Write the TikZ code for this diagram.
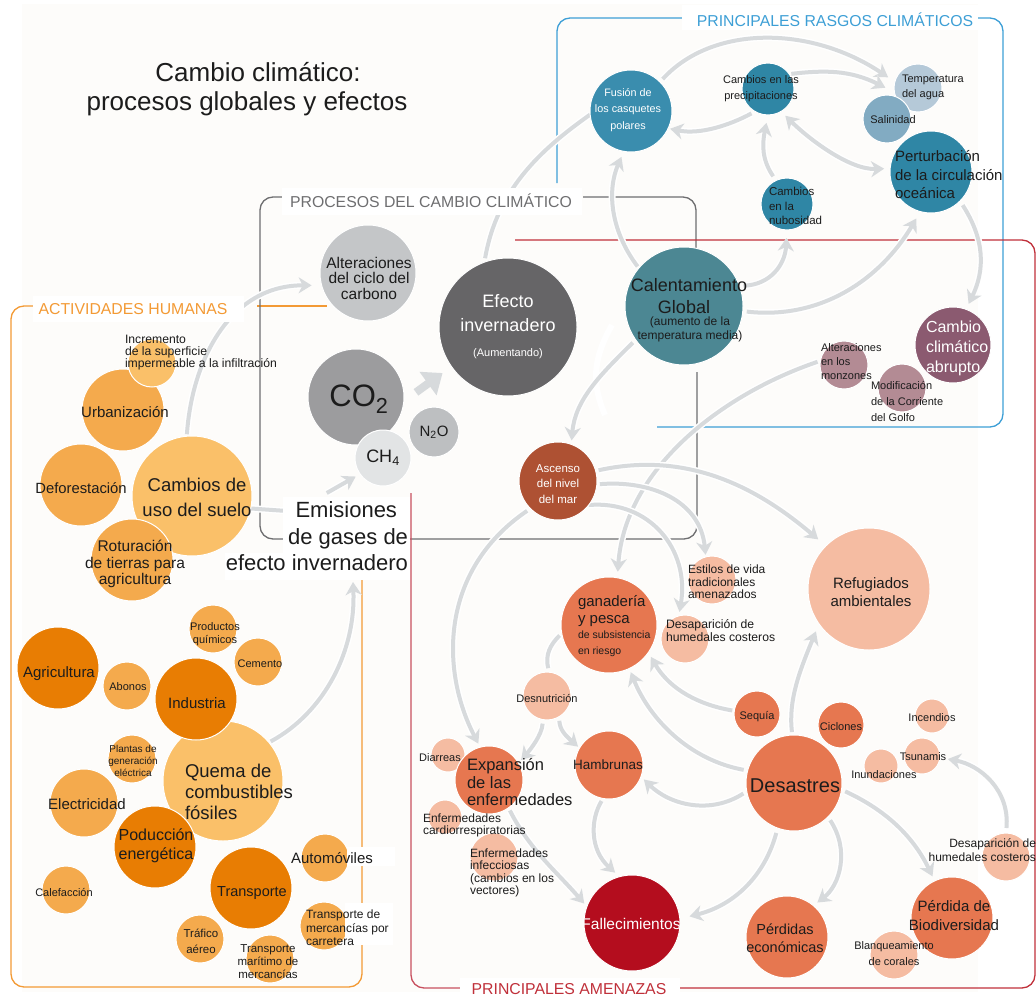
\documentclass[tikz,border=0pt]{standalone}
\usepackage{fontspec}
\setmainfont{Liberation Sans}
\usetikzlibrary{arrows.meta}
\pgfdeclarelayer{frames}
\pgfdeclarelayer{links}
\pgfsetlayers{frames,links,main}
\definecolor{cream}{HTML}{FDFCFA}
\definecolor{orA}{HTML}{FAC069}
\definecolor{orB}{HTML}{F4AA4D}
\definecolor{orC}{HTML}{E87D03}
\definecolor{gyA}{HTML}{C4C6C8}
\definecolor{gyB}{HTML}{9C9C9E}
\definecolor{gyC}{HTML}{E2E4E5}
\definecolor{gyD}{HTML}{BDBFC1}
\definecolor{gyE}{HTML}{666567}
\definecolor{teA}{HTML}{3A8DAE}
\definecolor{teB}{HTML}{2F86A5}
\definecolor{teC}{HTML}{4C8793}
\definecolor{teD}{HTML}{B5C9D8}
\definecolor{teE}{HTML}{82ABC2}
\definecolor{muA}{HTML}{8B5A70}
\definecolor{muB}{HTML}{B38B94}
\definecolor{reA}{HTML}{AE5133}
\definecolor{reB}{HTML}{E67750}
\definecolor{reC}{HTML}{F5BCA2}
\definecolor{reD}{HTML}{B40D1E}
\definecolor{ink}{HTML}{1C1C1C}
\definecolor{linkc}{HTML}{D7DADC}
\definecolor{frO}{HTML}{F39A35}
\definecolor{frG}{HTML}{6E6E70}
\definecolor{frB}{HTML}{3D9FD6}
\definecolor{frR}{HTML}{C0303A}
\definecolor{frP}{HTML}{C8505F}
\tikzset{
  bubble/.style={circle,draw=white,line width=1pt,inner sep=0pt,outer sep=0pt},
  txt/.style={inner sep=0pt,outer sep=0pt,align=center,text=ink},
  plainlink/.style={draw=linkc,line width=4pt,preaction={draw=white,line width=7pt}},
  link/.style={plainlink,-{Stealth[length=13pt,width=16pt,inset=4pt]},shorten >=4pt,shorten <=2pt},
  twolink/.style={plainlink,{Stealth[length=13pt,width=16pt,inset=4pt]}-{Stealth[length=13pt,width=16pt,inset=4pt]}},
  frame/.style={line width=1.3pt,rounded corners=13pt}
}
\newcommand\bub[4]{\node[bubble,fill=#4,minimum size=#3*2pt] (#1) at (#2) {};}
\newcommand\lab[6][]{\node[txt,font=\fontsize{#4}{#5}\selectfont,#1] (#2) at (#3) {#6};}
\begin{document}
\begin{tikzpicture}[x=1pt,y=-1pt]
\useasboundingbox (0,0) rectangle (1036,998);
% ---------- bubbles
\bub{alter}{368,273}{48}{gyA}
\bub{cotwo}{356,397}{48}{gyB}
\bub{chfour}{383,458}{28}{gyC}
\bub{ntwo}{434,432}{25}{gyD}
\bub{efecto}{508,327}{69}{gyE}
\bub{urban}{123,410}{41}{orB}
\bub{imper}{152,363}{24}{orA}
\bub{defor}{81,485}{41}{orB}
\bub{cambios}{192,496}{60}{orA}
\bub{rotur}{132,560}{41}{orB}
\bub{quimic}{213,629}{24}{orB}
\bub{cement}{258,662}{24}{orB}
\bub{agric}{58,668}{41}{orC}
\bub{abonos}{127,686}{24}{orB}
\bub{quema}{223,781}{60}{orA}
\bub{indus}{196,699}{41}{orC}
\bub{planta}{132,759}{24}{orB}
\bub{elect}{84,803}{34}{orB}
\bub{poduc}{155,847}{41}{orC}
\bub{calef}{66,890}{24}{orB}
\bub{autom}{325,858}{24}{orB}
\bub{transp}{251,888}{41}{orC}
\bub{carre}{324,926}{24}{orB}
\bub{aereo}{200,939}{24}{orB}
\bub{marit}{270,959}{24}{orB}
\bub{fusion}{631,111}{41}{teA}
\bub{precip}{768,89}{26}{teB}
\bub{tempe}{918,88}{24}{teD}
\bub{salin}{887,119}{24}{teE}
\bub{pertu}{931,172}{41}{teB}
\bub{nubos}{787,204}{26}{teB}
\bub{calen}{684,306}{59}{teC}
\bub{abrup}{953,345}{38}{muA}
\bub{monzo}{844,365}{24}{muB}
\bub{golfo}{902,388}{24}{muB}
\bub{ascen}{558,481}{39}{reA}
\bub{estil}{712,580}{24}{reC}
\bub{refug}{869,589}{61}{reC}
\bub{humeA}{685,639}{24}{reC}
\bub{ganad}{609,625}{48}{reB}
\bub{desnu}{547,696}{24}{reC}
\bub{sequi}{757,714}{23}{reB}
\bub{ciclo}{841,725}{23}{reB}
\bub{incen}{932,716}{17}{reC}
\bub{tsuna}{922,756}{18}{reC}
\bub{inund}{881,766}{17}{reC}
\bub{desas}{794,783}{48}{reB}
\bub{hambr}{609,765}{34}{reB}
\bub{diarr}{448,755}{17}{reC}
\bub{cardi}{445,817}{17}{reC}
\bub{expan}{489,780}{34}{reB}
\bub{infec}{494,857}{24}{reC}
\bub{falle}{632,923}{48}{reD}
\bub{econo}{787,937}{41}{reB}
\bub{biodi}{952,918}{41}{reB}
\bub{blanq}{894,955}{24}{reC}
\bub{humeB}{1006,857}{24}{reC}
\coordinate (emisIn) at (353,582);
\coordinate (emisOut) at (325,494);
\coordinate (emisLeft) at (287,511);
% ---------- background and frames
\begin{pgfonlayer}{frames}
\fill[cream] (22,4) rectangle (978,992);
\draw[frame,frO] (33,306) -- (11,306) -- (11,987) -- (362,987) -- (362,576);
\draw[frO,line width=1.3pt] (257,306) -- (327,306);
\draw[frame,frG] (283,197) -- (260,197) -- (260,539) -- (697,539) -- (697,372);
\draw[frame,frG] (583,197) -- (696,197) -- (696,248);
\draw[frame,frB] (557,183) -- (557,18) -- (682,18);
\draw[frame,frB] (978,18) -- (1003,18) -- (1003,427) -- (657,427);
\draw[frame,frR] (515,240) -- (1035,240) -- (1035,988) -- (680,988);
\draw[frame,frP] (411,493) -- (411,988) -- (460,988);
\end{pgfonlayer}
% ---------- links
\begin{pgfonlayer}{links}
\draw[white,line width=6pt] (612,325) .. controls (592,360) and (592,385) .. (605,415);
\draw[link,shorten >=10pt] (cambios.95) .. controls (192,360) and (230,285) .. (alter.195);
\draw[link,shorten >=0pt] (quema.40) .. controls (325,712) and (356,650) .. (emisIn);
\draw[plainlink] (cambios.-12) -- (emisLeft);
\draw[link,shorten >=5pt] (emisOut) -- (chfour.215);
\draw[plainlink,line width=8pt,-{Stealth[length=18pt,width=28pt,inset=0pt]},shorten >=11pt,shorten <=15pt] (cotwo.-5) -- (efecto.215);
\draw[plainlink,shorten <=4pt] (efecto.110) .. controls (497,190) and (540,150) .. (fusion.185);
\draw[link,shorten >=6pt] (calen.140) .. controls (610,230) and (607,190) .. (fusion.260);
\draw[link,shorten <=4pt,shorten >=8pt] (fusion.45) .. controls (712,25) and (810,25) .. (tempe.165);
\draw[link,shorten >=10pt] (precip.35) .. controls (825,70) and (850,70) .. (tempe.190);
\draw[link,shorten >=2pt,shorten <=4pt] (precip.240) .. controls (730,125) and (700,135) .. (fusion.-25);
\draw[link,shorten >=8pt,shorten <=5pt] (nubos.115) .. controls (762,160) and (762,145) .. (precip.270);
\draw[twolink,shorten >=6pt,shorten <=6pt] (precip.300) .. controls (810,140) and (850,170) .. (pertu.175);
\draw[link,shorten <=4pt,shorten >=8pt] (calen.20) .. controls (770,285) and (785,265) .. (nubos.270);
\draw[link,shorten <=4pt,shorten >=8pt] (calen.-5) .. controls (820,320) and (880,280) .. (pertu.255);
\draw[link,shorten <=5pt,shorten >=6pt] (pertu.-45) .. controls (985,240) and (985,270) .. (abrup.70);
\draw[link,shorten <=4pt,shorten >=4pt] (calen.215) .. controls (600,375) and (575,400) .. (ascen.70);
\draw[link,shorten >=6pt,shorten <=3pt] (monzo.170) .. controls (720,395) and (625,470) .. (ganad.80);
\draw[link,shorten <=3pt,shorten >=10pt] (ascen.15) .. controls (690,450) and (760,490) .. (refug.135);
\draw[link,shorten <=3pt,shorten >=2pt] (ascen.-5) .. controls (650,480) and (700,500) .. (estil.105);
\draw[link,shorten <=0pt,shorten >=4pt] (ascen.-38) .. controls (650,500) and (690,550) .. (humeA.105);
\draw[link,shorten <=4pt,shorten >=4pt] (ascen.225) .. controls (440,570) and (440,670) .. (expan.105);
\draw[plainlink,shorten <=3pt,shorten >=4pt] (ganad.190) .. controls (550,645) and (545,655) .. (desnu.85);
\draw[link,shorten <=4pt,shorten >=4pt] (desnu.-100) .. controls (542,735) and (530,750) .. (expan.30);
\draw[link,shorten <=4pt,shorten >=2pt] (desnu.-60) .. controls (560,730) and (565,735) .. (hambr.150);
\draw[link,shorten <=2pt,shorten >=5pt] (sequi.172) .. controls (700,705) and (670,690) .. (ganad.-35);
\draw[link,shorten <=4pt,shorten >=4pt] (desas.165) .. controls (690,760) and (650,720) .. (ganad.-65);
\draw[link,shorten <=4pt,shorten >=4pt] (desas.190) .. controls (710,815) and (670,805) .. (hambr.-20);
\draw[link,shorten <=3pt,shorten >=8pt] (desas.92) .. controls (788,700) and (800,670) .. (refug.215);
\draw[link,shorten <=5pt,shorten >=10pt] (desas.-110) .. controls (765,875) and (735,905) .. (falle.5);
\draw[link,shorten <=4pt,shorten >=5pt] (desas.-45) .. controls (850,850) and (840,885) .. (econo.50);
\draw[link,shorten <=4pt,shorten >=5pt] (desas.-8) .. controls (890,812) and (915,840) .. (biodi.115);
\draw[link,shorten <=5pt,shorten >=8pt] (humeB.90) .. controls (1010,790) and (980,765) .. (tsuna.-5);
\draw[link,shorten <=3pt,shorten >=6pt] (hambr.-100) .. controls (590,820) and (590,850) .. (falle.105);
\draw[link,shorten <=3pt,shorten >=4pt] (expan.-55) .. controls (530,850) and (555,870) .. (falle.160);
\end{pgfonlayer}
% ---------- white patches behind labels
\fill[white] (283,497) rectangle (410,553);
\fill[white] (225,553) rectangle (410,580);
\fill[white] (347,847) rectangle (395,866);
\fill[white] (345,903) rectangle (393,945);
\fill[white] (33,296) rectangle (244,322);
\fill[white] (282,188) rectangle (582,215);
\fill[white] (682,5) rectangle (978,30);
\fill[white] (460,978) rectangle (680,998);
% ---------- labels
\lab{title}{247,89}{26}{29}{\hspace*{22pt}Cambio climático:\\procesos globales y efectos}
\lab[text=frO]{hActiv}{133,309}{15.8}{18}{ACTIVIDADES HUMANAS}
\lab[text=frG]{hProc}{431,201}{15.8}{18}{PROCESOS DEL CAMBIO CLIMÁTICO}
\lab[text=frB]{hRasgo}{835,20}{15.8}{18}{PRINCIPALES RASGOS CLIMÁTICOS}
\lab[text=frR]{hAmen}{569,989}{15.8}{18}{PRINCIPALES AMENAZAS}
\lab{tAlter}{369,278}{15.5}{15.5}{Alteraciones\\del ciclo del\\carbono}
\lab{tCo}{359,399}{31}{36}{CO\textsubscript{2}}
\lab{tCh}{383,458}{18}{20}{CH\textsubscript{4}}
\lab{tNt}{434,432}{15}{17}{N\textsubscript{2}O}
\lab[text=white]{tEfe}{508,313}{18}{24}{Efecto\\invernadero}
\lab[text=white]{tEfeB}{508,354}{11}{13}{(Aumentando)}
\lab[align=left,anchor=north west]{tImper}{125,335}{12.2}{12}{Incremento\\de la superficie\\impermeable a la infiltración}
\lab{tUrban}{125,412}{15}{17}{Urbanización}
\lab{tDefor}{81,488}{14.8}{17}{Deforestación}
\lab{tCamb}{197,497}{18.5}{25}{Cambios de\\uso del suelo}
\lab{tRotur}{135,564}{15.5}{16.5}{Roturación\\de tierras para\\agricultura}
\lab[align=right,anchor=north east]{tEmis}{408,502}{22}{26.5}{Emisiones\hspace*{11pt}\\de gases de\hspace*{3pt}\\efecto invernadero}
\lab{tQuimic}{215,634}{11}{13.5}{Productos\\químicos}
\lab{tCement}{260,664}{11}{13}{Cemento}
\lab{tAgric}{59,674}{15}{17}{Agricultura}
\lab{tAbonos}{128,687}{11}{13}{Abonos}
\lab{tIndus}{197,703}{15}{17}{Industria}
\lab{tPlanta}{133,761}{10}{12}{Plantas de\\generación\\eléctrica}
\lab[align=left,anchor=west]{tQuema}{185,792}{18.5}{21}{Quema de\\combustibles\\fósiles}
\lab{tElect}{87,804}{15}{17}{Electricidad}
\lab{tPoduc}{156,846}{16}{19}{Poducción\\energética}
\lab{tCalef}{64,892}{11}{13}{Calefacción}
\lab{tAutom}{332,858}{15}{17}{Automóviles}
\lab{tTransp}{252,893}{14.5}{17}{Transporte}
\lab[align=left,anchor=west]{tCarre}{306,928}{12}{13.5}{Transporte de\\mercancías por\\carretera}
\lab{tAereo}{201,941}{11.5}{16}{Tráfico\\aéreo}
\lab{tMarit}{268,962}{11.5}{13}{Transporte\\marítimo de\\mercancías}
\lab[text=white]{tFusion}{628,110}{10.8}{16.5}{Fusión de\\los casquetes\\polares}
\lab{tPrecip}{761,89}{11}{16}{Cambios en las\\precipitaciones}
\lab[align=left,anchor=west]{tTempe}{902,87}{11}{15}{Temperatura\\del agua}
\lab{tSalin}{893,120}{11}{13}{Salinidad}
\lab[align=left,anchor=west]{tPertu}{895,175}{15}{18.5}{Perturbación\\de la circulación\\oceánica}
\lab[align=left,anchor=west]{tNubos}{769,206}{11.5}{14.5}{Cambios\\en la\\nubosidad}
\lab{tCalen}{689,296}{18}{21.5}{Calentamiento\\Global\hspace*{10pt}}
\lab{tCalenB}{690,329}{12}{14}{(aumento de la\\temperatura media)}
\lab[text=white,align=left,anchor=west]{tAbrup}{926,348}{16}{20}{Cambio\\climático\\abrupto}
\lab[align=left,anchor=west]{tMonzo}{821,362}{11}{14}{Alteraciones\\en los\\monzones}
\lab[align=left,anchor=west]{tGolfo}{871,401}{11}{16}{Modificación\\de la Corriente\\del Golfo}
\lab[text=white]{tAscen}{558,484}{11.5}{15.5}{Ascenso\\del nivel\\del mar}
\lab[align=left,anchor=west]{tEstil}{688,582}{12}{12.5}{Estilos de vida\\tradicionales\\amenazados}
\lab{tRefug}{871,592}{15}{17.5}{Refugiados\\ambientales}
\lab[align=left,anchor=west]{tHumeA}{666,631}{12.2}{13}{Desaparición de\\humedales costeros}
\lab[align=left,anchor=west]{tGanad}{578,611}{15}{17}{ganadería\\y pesca}
\lab[align=left,anchor=west]{tGanadB}{578,644}{10.5}{15.5}{de subsistencia\\en riesgo}
\lab{tDesnu}{547,698}{11}{12}{Desnutrición}
\lab{tSequi}{757,717}{11}{13}{Sequía}
\lab{tCiclo}{841,727}{11}{13}{Ciclones}
\lab{tIncen}{932,718}{11}{13}{Incendios}
\lab{tTsuna}{923,757}{11}{13}{Tsunamis}
\lab{tInund}{884,775}{11}{13}{Inundaciones}
\lab{tDesas}{795,786}{20}{25}{Desastres}
\lab{tHambr}{608,765}{13.5}{16}{Hambrunas}
\lab{tDiarr}{440,758}{11}{13}{Diarreas}
\lab[align=left,anchor=west]{tExpan}{467,782}{16.5}{17.5}{Expansión\\de las\\enfermedades}
\lab[align=left,anchor=west]{tCardi}{423,825}{12}{12}{Enfermedades\\cardiorrespiratorias}
\lab[align=left,anchor=west]{tInfec}{470,873}{12}{12.5}{Enfermedades\\infecciosas\\(cambios en los\\vectores)}
\lab[text=white]{tFalle}{631,924}{15.5}{18}{Fallecimientos}
\lab{tEcono}{785,938}{14.5}{18.5}{Pérdidas\\económicas}
\lab{tBiodi}{954,915.5}{15}{19}{Pérdida de\\Biodiversidad}
\lab{tBlanq}{894,954}{11}{16}{Blanqueamiento\\de corales}
\lab[align=right,anchor=east]{tHumeB}{1036,850}{12}{13.5}{Desaparición de\\humedales costeros}
\end{tikzpicture}
\end{document}
